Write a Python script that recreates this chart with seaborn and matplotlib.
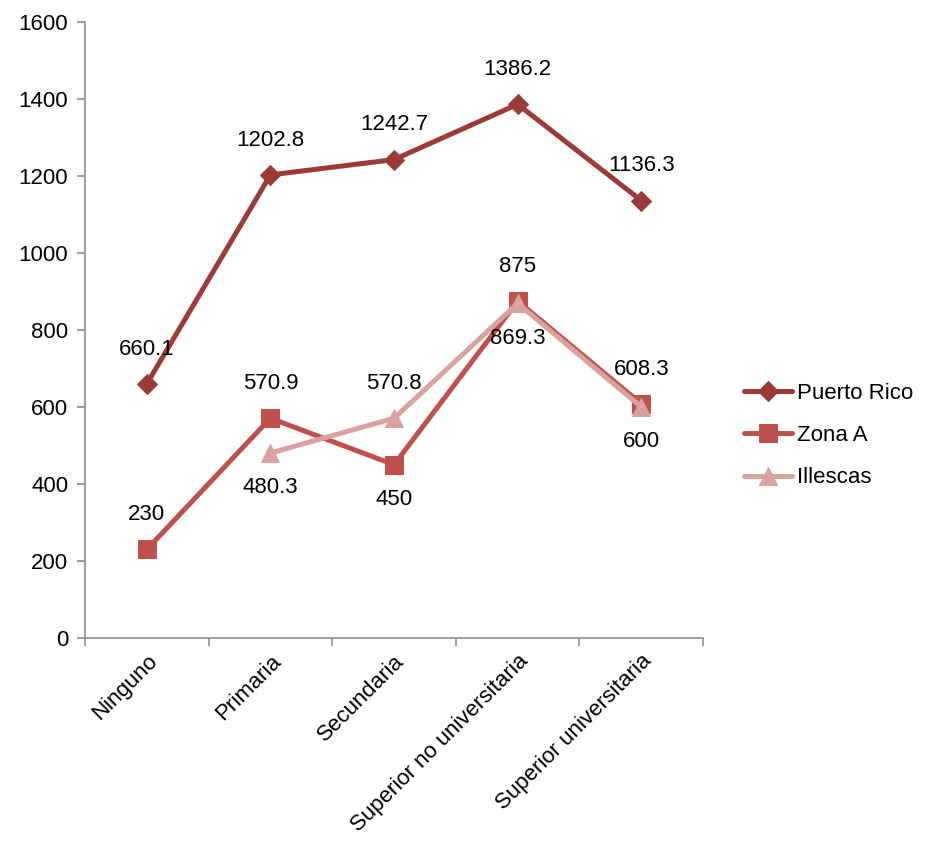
import numpy as np
import pandas as pd
import seaborn as sns
import matplotlib
matplotlib.use('Agg')
import matplotlib.pyplot as plt

categorias = ['Ninguno', 'Primaria', 'Secundaria', 'Superior no universitaria', 'Superior universitaria']
puerto_rico = [660.1, 1202.8, 1242.7, 1386.2, 1136.3]
zona_a = [230, 570.9, 450, 875, 608.3]
illescas = [np.nan, 480.3, 570.8, 869.3, 600]

# etiquetas: arriba (1) o abajo (-1)
pos_pr = [1, 1, 1, 1, 1]
pos_za = [1, 1, -1, 1, 1]
pos_il = [0, -1, 1, -1, -1]

sns.set_style('white')
plt.rcParams['font.family'] = ['Liberation Sans', 'DejaVu Sans']
fs = 16

fig = plt.figure(figsize=(9.3, 8.46), dpi=100)
ax = fig.add_axes([0.0914, 0.2459, 0.6646, 0.7281])

x = np.arange(len(categorias))
series = [
    ('Puerto Rico', puerto_rico, '#9B3A38', 'D', 10, pos_pr),
    ('Zona A', zona_a, '#C0504D', 's', 13, pos_za),
    ('Illescas', illescas, '#D9A1A0', '^', 13, pos_il),
]

for nombre, vals, color, mk, ms, pos in series:
    sns.lineplot(x=x, y=vals, ax=ax, color=color, marker=mk, markersize=ms,
                 markeredgecolor=color, linewidth=3.6, label=nombre)
    for xi, v, p in zip(x, vals, pos):
        if np.isnan(v):
            continue
        ax.annotate(f'{v:g}', (xi, v), xytext=(0, 25 * p), textcoords='offset points',
                    ha='center', va='center', fontsize=fs, color='black')

ax.set_xlim(-0.5, len(categorias) - 0.5)
ax.set_ylim(0, 1600)
ax.set_yticks(np.arange(0, 1601, 200))
ax.set_xticks(x)
ax.set_xticklabels(categorias, rotation=45, ha='right', rotation_mode='anchor', fontsize=fs)
ax.set_xticks(np.arange(-0.5, len(categorias), 1), minor=True)
ax.tick_params(axis='x', which='major', length=0, pad=9, labelcolor='black')
ax.tick_params(axis='x', which='minor', length=6, color='#8C8C8C', width=1.2, direction='out')
ax.tick_params(axis='y', length=6, color='#8C8C8C', width=1.2, direction='out', labelsize=fs,
               pad=6, labelcolor='black')
ax.yaxis.set_ticks_position('left')
ax.xaxis.set_ticks_position('bottom')

for s in ['top', 'right']:
    ax.spines[s].set_visible(False)
for s in ['left', 'bottom']:
    ax.spines[s].set_color('#8C8C8C')
    ax.spines[s].set_linewidth(1.2)

ax.get_legend().remove()
h, l = ax.get_legend_handles_labels()
leg = fig.legend(h, l, loc='center left', bbox_to_anchor=(0.778, 0.485), frameon=False,
                 fontsize=fs, handlelength=2.2, labelspacing=0.95, handletextpad=0.2)
for t in leg.get_texts():
    t.set_color('black')

fig.savefig('out.png', dpi=100)
